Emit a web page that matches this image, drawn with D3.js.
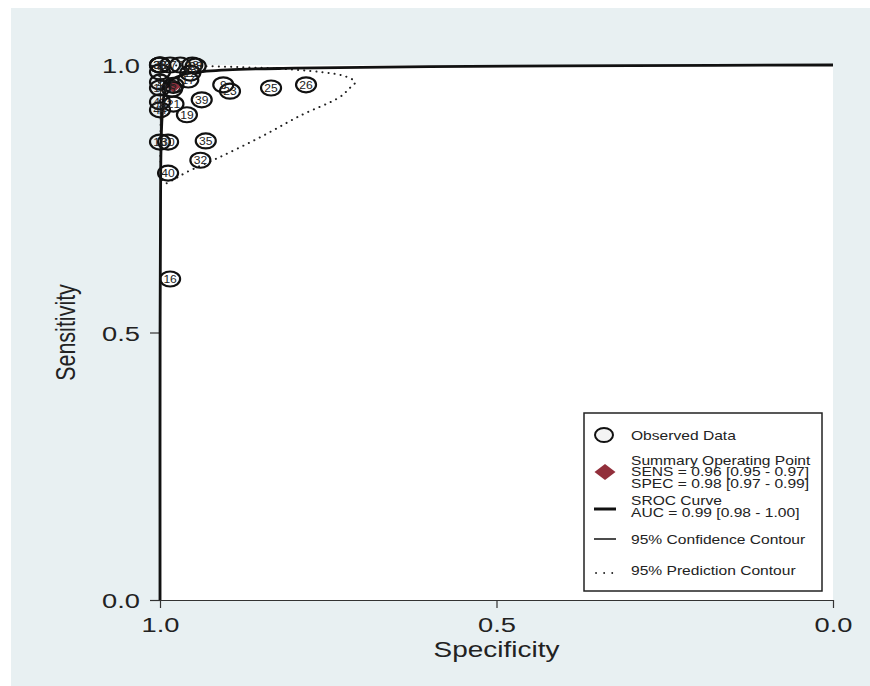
<!DOCTYPE html>
<html>
<head>
<meta charset="utf-8">
<script src="https://cdn.jsdelivr.net/npm/d3@7/dist/d3.min.js"></script>
<style>
  html, body { margin: 0; padding: 0; background: #ffffff; }
  svg { display: block; }
  text { font-family: "Liberation Sans", Arial, Helvetica, sans-serif; fill: #222; }
</style>
</head>
<body>
<svg id="chart" width="870" height="686"></svg>
<script>
// ---------- data ----------
const studyLabels = ["3","33","38","37","7","18","28","12","17","1","2","5","6","10","42","21","44","19","39","9","23","25","26","13","30","35","32","40","16"];
const studySpec   = [1.000,1.000,1.000,0.985,0.970,0.952,0.947,0.955,0.958,1.000,1.000,0.980,0.982,1.000,1.000,0.980,1.000,0.960,0.938,0.906,0.896,0.835,0.783,1.000,0.988,0.932,0.940,0.988,0.985];
const studySens   = [1.000,1.000,1.000,1.000,1.000,1.000,0.998,0.985,0.972,0.987,0.968,0.962,0.955,0.957,0.931,0.927,0.916,0.907,0.935,0.963,0.951,0.957,0.963,0.856,0.856,0.858,0.822,0.798,0.600];

const summarySpec = 0.98;
const summarySens = 0.96;

// SROC curve (specificity, sensitivity)
const srocSpec = [1.0, 0.9999, 0.999, 0.997, 0.993, 0.985, 0.970, 0.950, 0.900, 0.800, 0.600, 0.300, 0.0];
const srocSens = [0.0, 0.500, 0.800, 0.900, 0.950, 0.970, 0.980, 0.986, 0.991, 0.994, 0.997, 0.999, 1.0];

// 95% confidence contour
const confSpec = [0.990,0.985,0.977,0.971,0.970,0.974,0.981,0.988,0.992,0.993];
const confSens = [0.970,0.972,0.970,0.965,0.958,0.951,0.948,0.951,0.958,0.965];

// 95% prediction contour
const predSpec = [0.9985,0.985,0.941,0.881,0.822,0.762,0.725,0.710,0.718,0.733,0.792,0.851,0.911,0.960,0.981,0.993,0.998,0.999];
const predSens = [0.990,0.998,0.998,0.996,0.993,0.987,0.979,0.968,0.957,0.940,0.905,0.865,0.828,0.800,0.785,0.779,0.800,0.900];

const xTicks = [1.0, 0.5, 0.0];
const yTicks = [0.0, 0.5, 1.0];

const legendLines = {
  observed: ["Observed Data"],
  summary: ["Summary Operating Point", "SENS = 0.96 [0.95 - 0.97]", "SPEC = 0.98 [0.97 - 0.99]"],
  sroc: ["SROC Curve", "AUC = 0.99 [0.98 - 1.00]"],
  conf: ["95% Confidence Contour"],
  pred: ["95% Prediction Contour"]
};

// ---------- layout ----------
const SX = 1.3; // horizontal stretch of all text (matches reference)
const svg = d3.select("#chart");
const x = d3.scaleLinear().domain([1, 0]).range([160, 833]);
const y = d3.scaleLinear().domain([0, 1]).range([600, 65]);
const red = "#922f3b";

// backgrounds
svg.append("rect").attr("x", 11).attr("y", 8).attr("width", 859).attr("height", 678).attr("fill", "#e8f0f2");
svg.append("rect").attr("x", x(1)).attr("y", y(1)).attr("width", x(0) - x(1)).attr("height", y(0) - y(1)).attr("fill", "#ffffff");

function stretchedText(g, tx, ty, str, size, anchor) {
  return g.append("text")
    .attr("transform", `translate(${tx},${ty}) scale(${SX},1)`)
    .attr("text-anchor", anchor || "start")
    .style("font-size", size + "px")
    .text(str);
}

// axes
const yAxis = d3.axisLeft(y).tickValues(yTicks).tickFormat(d3.format(".1f")).tickSize(10).tickSizeOuter(0);
const gy = svg.append("g").attr("transform", `translate(${x(1)},0)`).call(yAxis);
gy.selectAll("path, line").attr("stroke", "#333").attr("stroke-width", 1.2);
gy.selectAll("text").style("font-size", "21px").attr("fill", "#222")
  .attr("x", -20 / SX).attr("dy", "0.36em").attr("transform", `scale(${SX},1)`);

const xAxis = d3.axisBottom(x).tickValues(xTicks).tickFormat(d3.format(".1f")).tickSize(8).tickSizeOuter(0);
const gx = svg.append("g").attr("transform", `translate(0,${y(0)})`).call(xAxis);
gx.selectAll("path, line").attr("stroke", "#333").attr("stroke-width", 1.2);
gx.selectAll("text").style("font-size", "21px").attr("fill", "#222")
  .attr("y", 17).attr("dy", "0.71em").attr("transform", `scale(${SX},1)`);

// axis titles
stretchedText(svg, (x(1) + x(0)) / 2, 657, "Specificity", 21.5, "middle");
svg.append("text")
  .attr("transform", `translate(75,${(y(0) + y(1)) / 2}) rotate(-90) scale(1,${SX})`)
  .attr("text-anchor", "middle").style("font-size", "21.5px").text("Sensitivity");

// prediction contour (dotted)
const predPts = predSpec.map((s, i) => [x(s), y(predSens[i])]);
svg.append("path")
  .attr("d", d3.line().curve(d3.curveCatmullRomClosed)(predPts))
  .attr("fill", "none").attr("stroke", "#222").attr("stroke-width", 2)
  .attr("stroke-dasharray", "0.1,6").attr("stroke-linecap", "round");

// confidence contour
const confPts = confSpec.map((s, i) => [x(s), y(confSens[i])]);
svg.append("path")
  .attr("d", d3.line().curve(d3.curveCatmullRomClosed)(confPts))
  .attr("fill", "none").attr("stroke", "#222").attr("stroke-width", 1.5);

// SROC curve
const srocPts = srocSpec.map((s, i) => [x(s), y(srocSens[i])]);
svg.append("path")
  .attr("d", d3.line().curve(d3.curveCatmullRom)(srocPts))
  .attr("fill", "none").attr("stroke", "#111").attr("stroke-width", 2.8);

// summary point
function diamond(cx, cy, w, h) {
  return `M${cx},${cy - h / 2}L${cx + w / 2},${cy}L${cx},${cy + h / 2}L${cx - w / 2},${cy}Z`;
}
svg.append("path").attr("d", diamond(x(summarySpec), y(summarySens), 15, 12)).attr("fill", red);

// observed data
const studies = studyLabels.map((l, i) => ({ label: l, spec: studySpec[i], sens: studySens[i] }));
const gs = svg.append("g");
gs.selectAll("ellipse").data(studies).join("ellipse")
  .attr("cx", d => x(d.spec)).attr("cy", d => y(d.sens))
  .attr("rx", 10).attr("ry", 7.5)
  .attr("fill", "none").attr("stroke", "#111").attr("stroke-width", 2.2);
gs.selectAll("text").data(studies).join("text")
  .attr("transform", d => `translate(${x(d.spec)},${y(d.sens) + 3.8}) scale(1.15,1)`)
  .attr("text-anchor", "middle").style("font-size", "10.5px").attr("fill", "#222")
  .text(d => d.label);

// legend
const lg = svg.append("g");
lg.append("rect").attr("x", 584).attr("y", 413).attr("width", 238).attr("height", 178)
  .attr("fill", "#fff").attr("stroke", "#222").attr("stroke-width", 1.5);
const tx = 631, fs = 12;
lg.append("ellipse").attr("cx", 604).attr("cy", 435).attr("rx", 9).attr("ry", 7)
  .attr("fill", "#f4f4f4").attr("stroke", "#111").attr("stroke-width", 2);
stretchedText(lg, tx, 439.5, legendLines.observed[0], fs);

lg.append("path").attr("d", diamond(605, 472, 21, 16)).attr("fill", red);
legendLines.summary.forEach((t, i) => stretchedText(lg, tx, 464.5 + i * 11.8, t, fs));

lg.append("line").attr("x1", 594).attr("x2", 616).attr("y1", 509).attr("y2", 509)
  .attr("stroke", "#111").attr("stroke-width", 3);
legendLines.sroc.forEach((t, i) => stretchedText(lg, tx, 505 + i * 11.8, t, fs));

lg.append("line").attr("x1", 594).attr("x2", 616).attr("y1", 539).attr("y2", 539)
  .attr("stroke", "#111").attr("stroke-width", 1.5);
stretchedText(lg, tx, 543.5, legendLines.conf[0], fs);

lg.append("line").attr("x1", 596).attr("x2", 614).attr("y1", 573).attr("y2", 573)
  .attr("stroke", "#222").attr("stroke-width", 1.8).attr("stroke-dasharray", "0.1,8").attr("stroke-linecap", "round");
stretchedText(lg, tx, 574.5, legendLines.pred[0], fs);
</script>
</body>
</html>
